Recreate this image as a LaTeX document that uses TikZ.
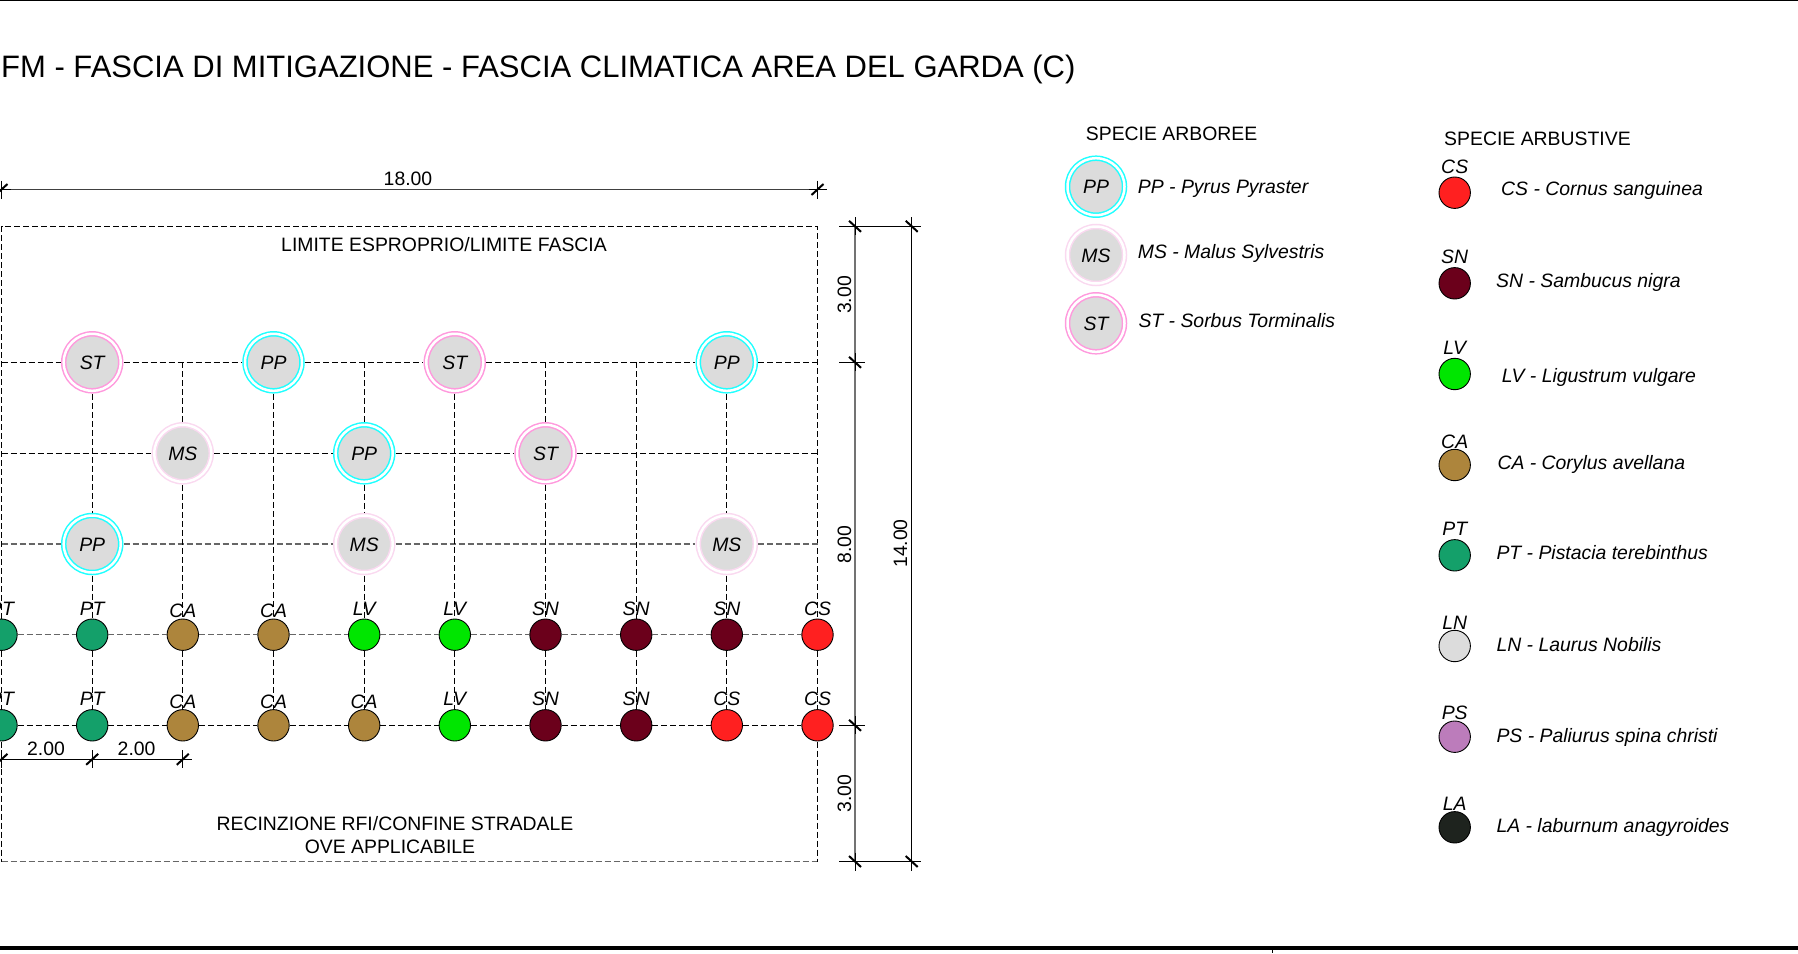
\documentclass[tikz,border=0pt]{standalone}
\usepackage{fontspec}
\usepackage{tikz}
\usetikzlibrary{calc, positioning}
\setmainfont{Liberation Sans}

\definecolor{ringPP}{HTML}{1FFFFF}
\definecolor{ringMS}{HTML}{FAD9F0}
\definecolor{ringST}{HTML}{FF99DD}
\definecolor{crownGray}{HTML}{DCDCDC}
\definecolor{fillCS}{HTML}{FF2020}
\definecolor{fillSN}{HTML}{6B001B}
\definecolor{fillLV}{HTML}{00E600}
\definecolor{fillCA}{HTML}{AD853C}
\definecolor{fillPT}{HTML}{14A06A}
\definecolor{fillPS}{HTML}{BC7CBB}
\definecolor{fillLA}{HTML}{1E231E}

\tikzset{
    plainText/.style={inner sep=0pt, text height=14pt, text depth=0pt, font=\fontsize{19.4}{22}\selectfont},
    italicText/.style={plainText, font=\fontsize{19.4}{22}\selectfont\itshape},
    keyText/.style={italicText, anchor=west},
    shrubTag/.style={italicText, label distance=3.2pt},
    lowTag/.style={italicText, label distance=0.6pt},
    tree/.style={circle, italicText, minimum size=57pt, line width=1.5pt, double=white, double distance=2.5pt, fill=crownGray, outer sep=3pt},
    treePP/.style={tree, draw=ringPP},
    treeMS/.style={tree, draw=ringMS},
    treeST/.style={tree, draw=ringST},
    shrub/.style={circle, draw=black, line width=0.9pt, inner sep=0pt, minimum size=31.4pt, outer sep=0.5pt},
    shrubCS/.style={shrub, fill=fillCS, label={[shrubTag]90:CS}},
    shrubSN/.style={shrub, fill=fillSN, label={[shrubTag]90:SN}},
    shrubLV/.style={shrub, fill=fillLV, label={[shrubTag]90:LV}},
    shrubCA/.style={shrub, fill=fillCA, label={[lowTag]90:CA}},
    shrubPT/.style={shrub, fill=fillPT, label={[shrubTag]90:PT}},
    shrubLN/.style={shrub, fill=crownGray, label={[lowTag]90:LN}},
    shrubPS/.style={shrub, fill=fillPS, label={[lowTag]90:PS}},
    shrubLA/.style={shrub, fill=fillLA, label={[lowTag]90:LA}},
    gridLine/.style={line width=0.9pt, dash pattern=on 6pt off 3pt},
    softGrid/.style={gridLine, line width=1.3pt, draw=black!60},
    dimLine/.style={line width=1pt},
    softDim/.style={line width=1.5pt, draw=black!55},
    tickLine/.style={line width=2pt}
}

\newcommand{\hmark}[1]{
    \draw[dimLine] ($(#1)+(-9,0)$) -- ($(#1)+(9,0)$);
    \draw[dimLine] ($(#1)+(0,-9)$) -- ($(#1)+(0,9)$);
    \draw[tickLine] ($(#1)+(-6,5.5)$) -- ($(#1)+(6,-5.5)$);
}
\newcommand{\vmark}[1]{
    \draw[dimLine] ($(#1)+(-16,0)$) -- ($(#1)+(9.5,0)$);
    \draw[dimLine] ($(#1)+(0,-9)$) -- ($(#1)+(0,9)$);
    \draw[tickLine] ($(#1)+(-6,-5.5)$) -- ($(#1)+(6,5.5)$);
}

\begin{document}
\begin{tikzpicture}[x=1pt, y=-1pt]
    \useasboundingbox (0,0) rectangle (1798,953);

    % frame lines
    \coordinate (topL) at (0,0.5);
    \coordinate (topR) at (1798,0.5);
    \coordinate (baseL) at (0,948);
    \coordinate (baseR) at (1798,948);
    \coordinate (stemT) at (1272.7,948);
    \coordinate (stemB) at (1272.7,953);
    \draw[line width=1pt] (topL) -- (topR);
    \draw[line width=4pt] (baseL) -- (baseR);
    \draw[line width=1pt] (stemT) -- (stemB);

    \node[plainText, anchor=west, text height=22pt, font=\fontsize{31}{34}\selectfont] (title) at (1,66.7) {FM - FASCIA DI MITIGAZIONE - FASCIA CLIMATICA AREA DEL GARDA (C)};
    \node[plainText] (limitTop) at (444,244) {LIMITE ESPROPRIO/LIMITE FASCIA};
    \node[plainText] (limitBot) at (395,823) {RECINZIONE RFI/CONFINE STRADALE};
    \node[plainText] (limitBot2) at (390,846) {OVE APPLICABILE};

    % trees
    \node[treeST] (stA1) at (92.2,362.3) {ST};
    \node[treePP] (ppA3) at (273.5,362.3) {PP};
    \node[treeST] (stA5) at (454.8,362.3) {ST};
    \node[treePP] (ppA8) at (726.8,362.3) {PP};
    \node[treeMS] (msB2) at (182.8,453.3) {MS};
    \node[treePP] (ppB4) at (364.2,453.3) {PP};
    \node[treeST] (stB6) at (545.5,453.3) {ST};
    \node[treePP] (ppC1) at (92.2,544) {PP};
    \node[treeMS] (msC4) at (364.2,544) {MS};
    \node[treeMS] (msC8) at (726.8,544) {MS};

    % shrubs
    \node[shrubPT] (ptP0) at (1.5,634.7) {};
    \node[shrubPT] (ptP1) at (92.2,634.7) {};
    \node[shrubCA] (caP2) at (182.8,634.7) {};
    \node[shrubCA] (caP3) at (273.5,634.7) {};
    \node[shrubLV] (lvP4) at (364.2,634.7) {};
    \node[shrubLV] (lvP5) at (454.8,634.7) {};
    \node[shrubSN] (snP6) at (545.5,634.7) {};
    \node[shrubSN] (snP7) at (636.2,634.7) {};
    \node[shrubSN] (snP8) at (726.8,634.7) {};
    \node[shrubCS] (csP9) at (817.5,634.7) {};
    \node[shrubPT] (ptQ0) at (1.5,725.3) {};
    \node[shrubPT] (ptQ1) at (92.2,725.3) {};
    \node[shrubCA] (caQ2) at (182.8,725.3) {};
    \node[shrubCA] (caQ3) at (273.5,725.3) {};
    \node[shrubCA] (caQ4) at (364.2,725.3) {};
    \node[shrubLV] (lvQ5) at (454.8,725.3) {};
    \node[shrubSN] (snQ6) at (545.5,725.3) {};
    \node[shrubSN] (snQ7) at (636.2,725.3) {};
    \node[shrubCS] (csQ8) at (726.8,725.3) {};
    \node[shrubCS] (csQ9) at (817.5,725.3) {};

    % limit of the strip and grid ends
    \coordinate (cornerTL) at (1.5,226.3);
    \coordinate (cornerTR) at (817.5,226.3);
    \coordinate (cornerBR) at (817.5,861.5);
    \coordinate (cornerBL) at (1.5,861.5);
    \coordinate (rowAL) at (1.5,362.3);
    \coordinate (rowAR) at (817.5,362.3);
    \coordinate (rowBL) at (1.5,453.3);
    \coordinate (rowBR) at (817.5,453.3);
    \coordinate (rowCL) at (1.5,544);
    \coordinate (rowCR) at (817.5,544);
    \coordinate (topC2) at (182.8,362.3);
    \coordinate (topC4) at (364.2,362.3);
    \coordinate (topC6) at (545.5,362.3);
    \coordinate (topC7) at (636.2,362.3);

    \draw[gridLine] (ptP0) -- (rowCL) -- (rowBL) -- (rowAL) -- (cornerTL) -- (cornerTR) -- (rowAR) -- (rowBR) -- (rowCR) -- (csP9);
    \draw[gridLine] (ptP0) -- (ptQ0) -- (cornerBL);
    \draw[softGrid] (cornerBL) -- (cornerBR);
    \draw[gridLine] (csP9) -- (csQ9) -- (cornerBR);

    \draw[gridLine] (rowAL) -- (stA1) -- (ppA3) -- (stA5) -- (ppA8) -- (rowAR);
    \draw[gridLine] (rowBL) -- (msB2) -- (ppB4) -- (stB6) -- (rowBR);
    \draw[softGrid] (rowCL) -- (ppC1) -- (msC4) -- (msC8) -- (rowCR);
    \draw[softGrid] (ptP0) -- (ptP1) -- (caP2) -- (caP3) -- (lvP4) -- (lvP5) -- (snP6) -- (snP7) -- (snP8) -- (csP9);
    \draw[gridLine] (ptQ0) -- (ptQ1) -- (caQ2) -- (caQ3) -- (caQ4) -- (lvQ5) -- (snQ6) -- (snQ7) -- (csQ8) -- (csQ9);

    \draw[gridLine] (stA1) -- (ppC1) -- (ptP1) -- (ptQ1);
    \draw[gridLine] (topC2) -- (msB2) -- (caP2) -- (caQ2);
    \draw[gridLine] (ppA3) -- (caP3) -- (caQ3);
    \draw[gridLine] (topC4) -- (ppB4) -- (msC4) -- (lvP4) -- (caQ4);
    \draw[gridLine] (stA5) -- (lvP5) -- (lvQ5);
    \draw[gridLine] (topC6) -- (stB6) -- (snP6) -- (snQ6);
    \draw[gridLine] (topC7) -- (snP7) -- (snQ7);
    \draw[gridLine] (ppA8) -- (msC8) -- (snP8) -- (csQ8);

    % dimensions
    \coordinate (wideL) at (1.5,189.5);
    \coordinate (wideR) at (817.5,189.5);
    \draw[dimLine, draw=black!75] (wideL) -- (wideR);
    \hmark{wideL}
    \hmark{wideR}
    \node[plainText] (wideText) at (408,178) {18.00};

    \coordinate (stepA) at (1.5,759.3);
    \coordinate (stepB) at (92.2,759.3);
    \coordinate (stepC) at (182.8,759.3);
    \draw[dimLine] (stepA) -- (stepB) -- (stepC);
    \hmark{stepA}
    \hmark{stepB}
    \hmark{stepC}
    \node[plainText] (stepText1) at (46,748.7) {2.00};
    \node[plainText] (stepText2) at (136.6,748.7) {2.00};

    \coordinate (partT) at (855,226.3);
    \coordinate (partU) at (855,362.3);
    \coordinate (partV) at (855,725.3);
    \coordinate (partB) at (855,861.5);
    \coordinate (fullT) at (911.7,226.3);
    \coordinate (fullB) at (911.7,861.5);
    \draw[softDim] (partT) -- (partU) -- (partV) -- (partB);
    \draw[dimLine] (fullT) -- (fullB);
    \draw[dimLine] (partT) -- (fullT);
    \draw[dimLine] (partB) -- (fullB);
    \vmark{partT}
    \vmark{partU}
    \vmark{partV}
    \vmark{partB}
    \vmark{fullT}
    \vmark{fullB}
    \node[plainText, rotate=90] (partText1) at (844,295) {3.00};
    \node[plainText, rotate=90] (partText2) at (844,544.7) {8.00};
    \node[plainText, rotate=90] (partText3) at (844,793.5) {3.00};
    \node[plainText, rotate=90] (fullText) at (900,543.5) {14.00};

    % key of trees
    \node[plainText, anchor=west] (treeHead) at (1085.7,133.3) {SPECIE ARBOREE};
    \node[treePP] (keyPP) at (1096,186.7) {PP};
    \node[treeMS] (keyMS) at (1096,255) {MS};
    \node[treeST] (keyST) at (1096,323.3) {ST};
    \node[keyText] (namePP) at (1137.7,186.7) {PP - Pyrus Pyraster};
    \node[keyText] (nameMS) at (1137.7,251.7) {MS - Malus Sylvestris};
    \node[keyText] (nameST) at (1138.3,320) {ST - Sorbus Torminalis};

    % key of shrubs
    \node[plainText, anchor=west] (shrubHead) at (1444,138.3) {SPECIE ARBUSTIVE};
    \node[shrubCS] (keyCS) at (1454.7,192.7) {};
    \node[shrubSN] (keySN) at (1454.7,283.3) {};
    \node[shrubLV] (keyLV) at (1454.7,374) {};
    \node[shrubCA] (keyCA) at (1454.7,465) {};
    \node[shrubPT] (keyPT) at (1454.7,555.3) {};
    \node[shrubLN] (keyLN) at (1454.7,646) {};
    \node[shrubPS] (keyPS) at (1454.7,736.7) {};
    \node[shrubLA] (keyLA) at (1454.7,827.3) {};
    \node[keyText] (nameCS) at (1501,188.3) {CS - Cornus sanguinea};
    \node[keyText] (nameSN) at (1496,280.7) {SN - Sambucus nigra};
    \node[keyText] (nameLV) at (1501.7,375) {LV - Ligustrum vulgare};
    \node[keyText] (nameCA) at (1497.3,462.7) {CA - Corylus avellana};
    \node[keyText] (namePT) at (1496.3,552.7) {PT - Pistacia terebinthus};
    \node[keyText] (nameLN) at (1496.3,644.3) {LN - Laurus Nobilis};
    \node[keyText] (namePS) at (1496.3,735.3) {PS - Paliurus spina christi};
    \node[keyText] (nameLA) at (1496.3,825.7) {LA - laburnum anagyroides};
\end{tikzpicture}
\end{document}
